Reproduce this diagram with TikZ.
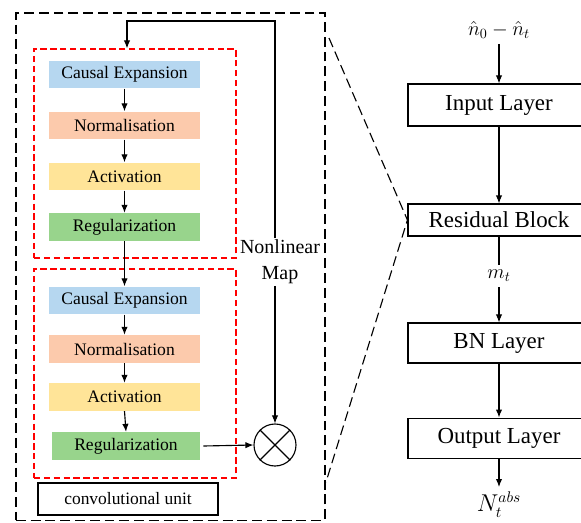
\documentclass[tikz,border=0pt]{standalone}
\usepackage{fontspec}
\setmainfont{Liberation Serif}
\usepackage{amsmath}
\usetikzlibrary{arrows.meta}

\definecolor{cblue}{RGB}{182,215,240}
\definecolor{corange}{RGB}{252,202,172}
\definecolor{cyellow}{RGB}{255,228,152}
\definecolor{cgreen}{RGB}{152,212,140}

\begin{document}
\begin{tikzpicture}[x=0.025cm, y=-0.025cm, >={Latex[length=2mm,width=1.6mm]}, line width=0.8pt,
	blk/.style={minimum width=3.775cm, minimum height=0.68cm, inner sep=0pt, font=\fontsize{12.5}{14}\selectfont},
	layer/.style={draw, minimum width=4.55cm, inner sep=0pt, font=\fontsize{16.3}{18}\selectfont},
	redbox/.style={draw=red, dash pattern=on 4.5pt off 2.5pt, minimum width=5.05cm, minimum height=5.225cm}]
	\clip (0,0) rectangle (581,522);
	% zoomed unit on the left
	\node[draw, dash pattern=on 7pt off 3.5pt, minimum width=7.725cm, minimum height=12.675cm] (outer) at (170.5,266.5) {};
	\node[redbox] (redA) at (135,153.5) {};
	\node[redbox] (redB) at (135,373.5) {};
	\foreach \n/\y/\t/\c in {ce1/74.5/Causal Expansion/cblue, no1/125.5/Normalisation/corange, ac1/176.5/Activation/cyellow, rg1/227/Regularization/cgreen,
		ce2/300.5/Causal Expansion/cblue, no2/349/Normalisation/corange, ac2/397/Activation/cyellow}
		{\node[blk, fill=\c] (\n) at (124.5,\y) {\t};}
	\node[blk, fill=cgreen, minimum width=3.7cm] (rg2) at (126,446) {Regularization};
	\foreach \a/\b in {ce1/no1, no1/ac1, ac1/rg1, rg1/ce2, ce2/no2, no2/ac2, ac2/rg2}
		{\draw[->] (\a.south) -- (\b.north);}
	\node[draw, line width=1pt, minimum width=4.5cm, minimum height=0.8cm, font=\fontsize{12.4}{14}\selectfont] (conv) at (128,499) {convolutional unit};
	\node[align=center, inner sep=1pt, font=\fontsize{14.2}{18.4}\selectfont] (nlmap) at (280,262) {Nonlinear\\Map};
	\node[draw, circle, minimum size=1.05cm, inner sep=0pt] (mult) at (275,445) {};
	\draw (mult.north west) -- (mult.south east) (mult.north east) -- (mult.south west);
	\coordinate (fbk) at (127,21);
	\draw[->] (mult|-nlmap.north) |- (fbk) -- (fbk|-redA.north);
	\draw[->] (mult|-nlmap.south) -- (mult.north);
	\draw[->] ([xshift=2pt]rg2.east) -- (mult.west);
	% zoom lines
	\coordinate (zA) at (329,38);
	\coordinate (zB) at (326,482);
	% network on the right
	\node[font=\fontsize{14}{16}\selectfont] (inp) at (499,30) {$\hat{n}_0-\hat{n}_t$};
	\node[layer, minimum height=1.05cm] (input) at (499,105) {Input Layer};
	\node[layer, minimum height=0.8cm] (res) at (499,220) {Residual Block};
	\node[font=\fontsize{14}{16}\selectfont] (mt) at (499,276) {$m_t$};
	\node[layer, minimum height=1cm] (bn) at (499,343) {BN Layer};
	\node[layer, minimum height=1.02cm] (out) at (499,438.5) {Output Layer};
	\node[font=\fontsize{16}{18}\selectfont, anchor=north] (nabs) at (499,487) {$N_t^{abs}$};
	\draw[->] (inp) -- (input);
	\draw[->] (input) -- (res);
	\draw (res) -- (mt);
	\draw[->] (mt) -- (bn);
	\draw[->] (bn) -- (out);
	\draw[->] (out) -- (nabs);
	\draw[dash pattern=on 7pt off 3.5pt] (zA) -- (res.west) -- (zB);
\end{tikzpicture}
\end{document}
